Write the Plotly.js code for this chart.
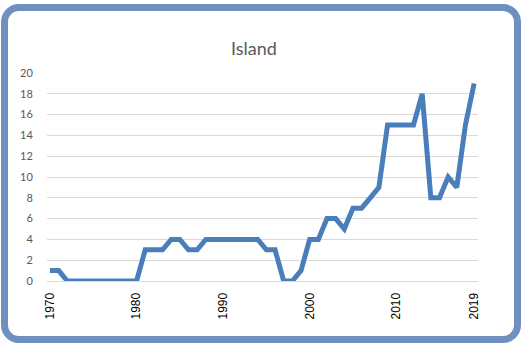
<!DOCTYPE html>
<html>
<head>
<meta charset="utf-8">
<script src="https://cdn.plot.ly/plotly-3.0.1.min.js"></script>
<style>
html,body{margin:0;padding:0;background:#fff;}
#wrap{position:relative;width:524px;height:347px;}
#chart{position:absolute;left:0;top:0;width:524px;height:347px;}
#frame{position:absolute;left:1px;top:4px;width:520px;height:339px;box-sizing:border-box;border:7px solid #6F8FBF;border-radius:18px;pointer-events:none;}
</style>
</head>
<body>
<div id="wrap"><div id="chart"></div><div id="frame"></div></div>
<script>
const years = [];
for (let y = 1970; y <= 2019; y++) years.push(y);
const values = [1,1,0,0,0,0,0,0,0,0,0,3,3,3,4,4,3,3,4,4,4,4,4,4,4,3,3,0,0,1,4,4,6,6,5,7,7,8,9,15,15,15,15,18,8,8,10,9,15,19];
const xTicks = [1970,1980,1990,2000,2010,2019];
const yTicks = [0,2,4,6,8,10,12,14,16,18,20];
const titleText = 'Island';

Plotly.newPlot('chart', [{
  x: years, y: values, type: 'scatter', mode: 'lines',
  line: {color: '#4A7EBB', width: 5, shape: 'linear'},
  hoverinfo: 'skip'
}], {
  width: 524, height: 347,
  margin: {l: 47, r: 46, t: 73, b: 66},
  paper_bgcolor: '#ffffff', plot_bgcolor: '#ffffff',
  showlegend: false,
  title: {text: titleText, xref: 'paper', x: (254 - 47) / 431, xanchor: 'center', y: 1 - 49/347, yanchor: 'middle',
          font: {family: 'Lato, "Open Sans", sans-serif', size: 18, color: '#595959'}},
  xaxis: {range: [1969.65, 2019.45], tickmode: 'array', tickvals: xTicks, ticktext: xTicks.map(String),
          tickangle: -90, showgrid: false, zeroline: false, showline: false,
          ticks: 'outside', ticklen: 6, tickcolor: 'rgba(0,0,0,0)',
          tickfont: {family: '"Liberation Sans", Arial, sans-serif', size: 12, color: '#000000'}, fixedrange: true},
  yaxis: {range: [0, 20], tickmode: 'array', tickvals: yTicks, showgrid: true, gridcolor: '#D9D9D9', gridwidth: 1,
          zeroline: true, zerolinecolor: '#D9D9D9', zerolinewidth: 1, showline: false,
          ticks: 'outside', ticklen: 11, tickcolor: 'rgba(0,0,0,0)',
          tickfont: {family: 'Lato, "Open Sans", sans-serif', size: 11, color: '#595959'}, fixedrange: true}
}, {displayModeBar: false, staticPlot: true});
</script>
</body>
</html>
